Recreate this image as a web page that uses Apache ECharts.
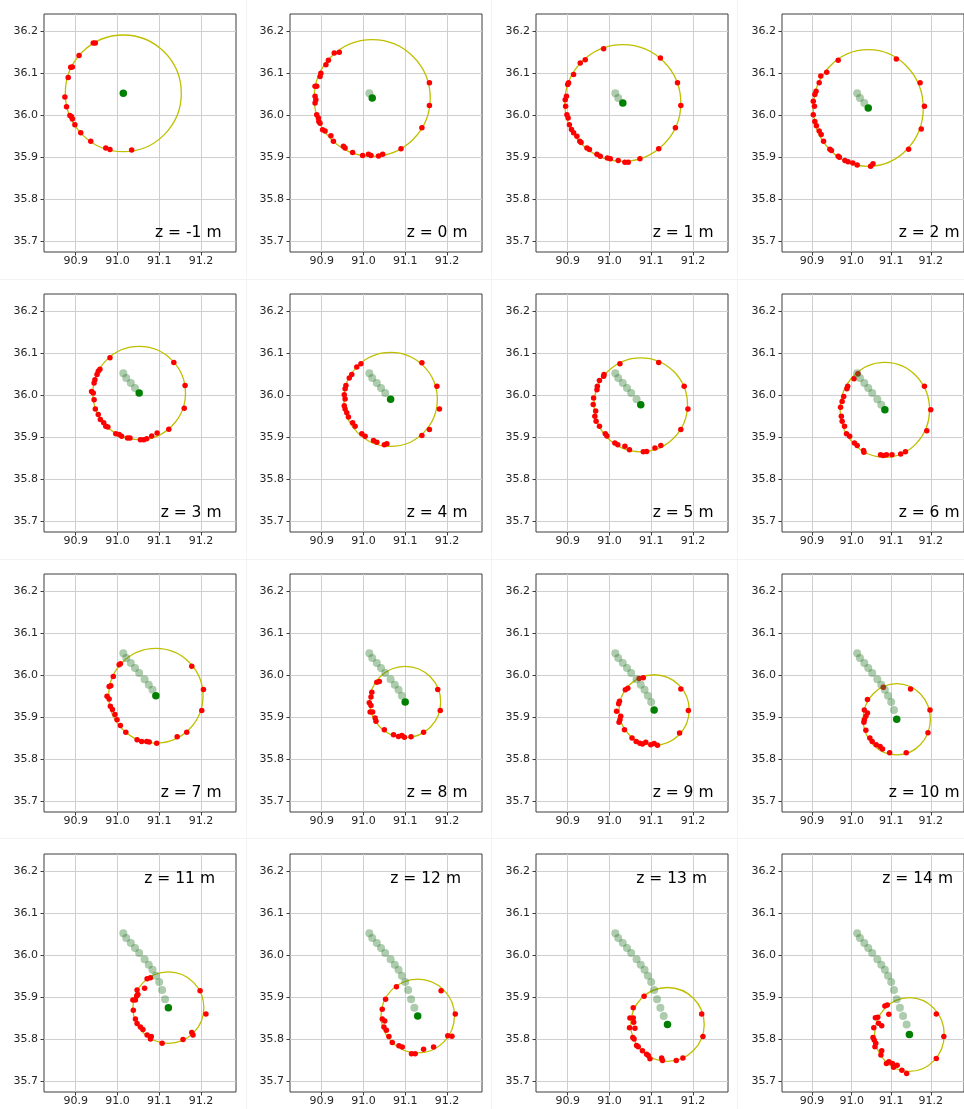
<!DOCTYPE html>
<html><head><meta charset="utf-8">
<script src="https://cdn.jsdelivr.net/npm/echarts@6.0.0/dist/echarts.min.js"></script>
<style>html,body{margin:0;padding:0;background:#fff;overflow:hidden}#chart{width:964px;height:1109px}</style>
</head><body><div id="chart"></div>
<script>
// ---- data ----
const zValues = [-1, 0, 1, 2, 3, 4, 5, 6, 7, 8, 9, 10, 11, 12, 13, 14];
const centerX = [91.014, 91.021, 91.032, 91.042, 91.052, 91.065, 91.075, 91.084, 91.092, 91.100, 91.107, 91.114, 91.122, 91.130, 91.139, 91.146];
const centerY = [36.052, 36.041, 36.029, 36.017, 36.005, 35.990, 35.977, 35.965, 35.951, 35.936, 35.917, 35.895, 35.875, 35.855, 35.835, 35.811];
const radius  = [0.139, 0.139, 0.139, 0.139, 0.111, 0.112, 0.112, 0.113, 0.113, 0.085, 0.084, 0.085, 0.085, 0.088, 0.088, 0.088];

const ptsZm1 = [[90.942,36.172],[90.947,36.172],[90.908,36.142],[90.888,36.114],[90.892,36.115],[90.882,36.090],[90.874,36.043],[90.878,36.020],[90.886,35.999],[90.890,35.996],[90.892,35.991],[90.898,35.977],[90.912,35.958],[90.936,35.938],[90.972,35.922],[90.982,35.918],[91.034,35.917]];
const ptsZ0 = [[90.930,36.148],[90.942,36.150],[90.916,36.131],[90.910,36.120],[90.898,36.100],[90.896,36.092],[90.884,36.069],[90.888,36.069],[90.884,36.045],[90.886,36.037],[90.884,36.029],[90.888,36.001],[90.892,35.993],[90.893,35.985],[90.896,35.981],[90.902,35.965],[90.908,35.962],[90.922,35.951],[90.928,35.938],[90.952,35.926],[90.956,35.922],[90.974,35.911],[90.998,35.904],[91.012,35.907],[91.018,35.904],[91.036,35.903],[91.046,35.907],[91.090,35.920],[91.140,35.970],[91.158,36.023],[91.158,36.077]];
const ptsZ1 = [[90.986,36.158],[90.930,36.124],[90.942,36.132],[90.914,36.097],[90.902,36.077],[90.900,36.073],[90.897,36.045],[90.894,36.037],[90.895,36.021],[90.898,36.001],[90.901,35.993],[90.904,35.977],[90.909,35.966],[90.914,35.958],[90.922,35.950],[90.929,35.938],[90.932,35.935],[90.946,35.922],[90.952,35.918],[90.970,35.907],[90.978,35.902],[90.995,35.898],[91.002,35.896],[91.021,35.892],[91.037,35.888],[91.045,35.888],[91.073,35.896],[91.118,35.920],[91.158,35.970],[91.171,36.023],[91.163,36.077],[91.122,36.136]];
const ptsZ2 = [[90.966,36.131],[90.937,36.102],[90.922,36.093],[90.918,36.077],[90.910,36.057],[90.907,36.049],[90.903,36.033],[90.906,36.021],[90.903,36.001],[90.907,35.985],[90.911,35.975],[90.918,35.962],[90.923,35.954],[90.929,35.938],[90.945,35.919],[90.949,35.916],[90.966,35.902],[90.969,35.900],[90.983,35.892],[90.991,35.889],[91.003,35.886],[91.014,35.881],[91.048,35.878],[91.054,35.884],[91.144,35.919],[91.176,35.967],[91.184,36.021],[91.173,36.077],[91.113,36.134]];
const ptsZ3 = [[90.982,36.089],[90.958,36.062],[90.954,36.057],[90.951,36.049],[90.946,36.037],[90.944,36.029],[90.938,36.009],[90.942,36.005],[90.944,35.989],[90.947,35.967],[90.954,35.954],[90.959,35.942],[90.967,35.934],[90.972,35.926],[90.977,35.924],[90.996,35.908],[91.004,35.906],[91.010,35.902],[91.024,35.898],[91.030,35.898],[91.055,35.894],[91.063,35.894],[91.070,35.896],[91.082,35.903],[91.095,35.910],[91.123,35.919],[91.160,35.969],[91.162,36.023],[91.135,36.078]];
const ptsZ4 = [[90.994,36.075],[90.984,36.067],[90.972,36.049],[90.966,36.041],[90.958,36.023],[90.956,36.015],[90.954,36.001],[90.956,35.991],[90.954,35.975],[90.956,35.967],[90.960,35.958],[90.964,35.948],[90.974,35.934],[90.980,35.926],[90.996,35.908],[91.004,35.902],[91.024,35.892],[91.032,35.888],[91.050,35.882],[91.056,35.884],[91.140,35.904],[91.158,35.918],[91.182,35.967],[91.176,36.021],[91.140,36.077]];
const ptsZ5 = [[91.025,36.075],[91.118,36.078],[91.179,36.021],[91.188,35.967],[91.171,35.918],[91.123,35.880],[91.109,35.874],[91.089,35.866],[91.081,35.865],[91.048,35.870],[91.037,35.878],[91.020,35.882],[91.013,35.886],[90.994,35.903],[90.990,35.908],[90.976,35.926],[90.968,35.938],[90.965,35.950],[90.967,35.962],[90.961,35.978],[90.962,35.993],[90.970,36.013],[90.971,36.021],[90.976,36.035],[90.986,36.045],[90.987,36.049]];
const ptsZ6 = [[91.016,36.051],[91.006,36.039],[90.990,36.021],[90.988,36.015],[90.980,35.997],[90.976,35.985],[90.972,35.971],[90.974,35.950],[90.976,35.938],[90.982,35.926],[90.987,35.908],[90.995,35.902],[91.007,35.886],[91.014,35.880],[91.030,35.868],[91.031,35.864],[91.073,35.858],[91.080,35.856],[91.088,35.858],[91.102,35.858],[91.124,35.860],[91.136,35.865],[91.190,35.915],[91.200,35.965],[91.184,36.021]];
const ptsZ7 = [[91.004,36.025],[91.007,36.027],[90.990,35.997],[90.984,35.975],[90.980,35.973],[90.975,35.950],[90.980,35.943],[90.983,35.926],[90.988,35.918],[90.994,35.906],[90.999,35.894],[91.007,35.880],[91.020,35.864],[91.047,35.846],[91.058,35.842],[91.070,35.842],[91.076,35.841],[91.094,35.838],[91.143,35.853],[91.166,35.864],[91.202,35.916],[91.206,35.966],[91.178,36.021]];
const ptsZ8 = [[91.032,35.983],[91.038,35.985],[91.020,35.959],[91.018,35.948],[91.014,35.934],[91.018,35.928],[91.016,35.912],[91.022,35.912],[91.028,35.898],[91.030,35.890],[91.050,35.870],[91.072,35.858],[91.084,35.854],[91.092,35.856],[91.098,35.852],[91.114,35.853],[91.144,35.864],[91.184,35.916],[91.178,35.966]];
const ptsZ9 = [[91.071,35.992],[91.081,35.994],[91.038,35.965],[91.044,35.969],[91.024,35.938],[91.022,35.932],[91.017,35.914],[91.027,35.902],[91.025,35.894],[91.023,35.888],[91.036,35.870],[91.054,35.850],[91.064,35.842],[91.073,35.838],[91.079,35.836],[91.087,35.840],[91.099,35.834],[91.107,35.837],[91.115,35.833],[91.168,35.862],[91.189,35.916],[91.171,35.967]];
const ptsZ10 = [[91.080,35.971],[91.040,35.942],[91.032,35.917],[91.040,35.910],[91.036,35.902],[91.032,35.894],[91.031,35.888],[91.036,35.869],[91.046,35.850],[91.052,35.842],[91.062,35.834],[91.072,35.830],[91.078,35.824],[91.096,35.815],[91.138,35.815],[91.193,35.863],[91.198,35.917],[91.149,35.967]];
const ptsZ11 = [[91.071,35.944],[91.079,35.946],[91.047,35.917],[91.065,35.921],[91.049,35.906],[91.046,35.903],[91.037,35.893],[91.043,35.893],[91.038,35.869],[91.043,35.848],[91.047,35.837],[91.055,35.829],[91.061,35.823],[91.071,35.810],[91.081,35.806],[91.079,35.800],[91.107,35.790],[91.157,35.799],[91.178,35.816],[91.181,35.810],[91.212,35.860],[91.198,35.915]];
const ptsZ12 = [[91.079,35.925],[91.053,35.895],[91.045,35.871],[91.045,35.848],[91.051,35.843],[91.049,35.829],[91.055,35.821],[91.061,35.806],[91.069,35.792],[91.085,35.784],[91.093,35.781],[91.115,35.765],[91.124,35.765],[91.144,35.776],[91.168,35.781],[91.202,35.808],[91.212,35.807],[91.220,35.860],[91.186,35.915]];
const ptsZ13 = [[91.083,35.902],[91.057,35.875],[91.049,35.850],[91.057,35.850],[91.058,35.840],[91.048,35.827],[91.061,35.826],[91.056,35.804],[91.059,35.800],[91.065,35.785],[91.069,35.782],[91.079,35.772],[91.089,35.764],[91.093,35.761],[91.097,35.753],[91.125,35.755],[91.127,35.749],[91.160,35.749],[91.176,35.755],[91.224,35.806],[91.221,35.860]];
const ptsZ14 = [[91.084,35.879],[91.090,35.881],[91.094,35.859],[91.060,35.851],[91.066,35.852],[91.068,35.838],[91.076,35.832],[91.056,35.827],[91.054,35.804],[91.057,35.798],[91.061,35.790],[91.059,35.782],[91.076,35.772],[91.074,35.762],[91.088,35.742],[91.094,35.746],[91.103,35.742],[91.106,35.733],[91.115,35.738],[91.127,35.726],[91.139,35.718],[91.214,35.754],[91.233,35.806],[91.214,35.860]];
const ringPoints = [ptsZm1, ptsZ0, ptsZ1, ptsZ2, ptsZ3, ptsZ4, ptsZ5, ptsZ6, ptsZ7, ptsZ8, ptsZ9, ptsZ10, ptsZ11, ptsZ12, ptsZ13, ptsZ14];

const xTicks = [90.9, 91.0, 91.1, 91.2];
const yTicks = [35.7, 35.8, 35.9, 36.0, 36.1, 36.2];
const xMin = 90.824, xMax = 91.284, yMin = 35.674, yMax = 36.241;

// ---- layout ----
const colLeft = [44, 290, 536, 782], rowTop = [14, 294, 574, 854], W = 192, H = 238;
const grids = [], xAxes = [], yAxes = [], series = [], graphics = [];
const tickColor = '#3d3d3d', labelColor = '#262626';

zValues.forEach((z, i) => {
  const col = i % 4, row = Math.floor(i / 4);
  const left = colLeft[col], top = rowTop[row];
  grids.push({left, top, width: W, height: H, show: true, borderColor: '#3d3d3d', borderWidth: 1, backgroundColor: '#ffffff', containLabel: false});
  xAxes.push({
    type: 'value', gridIndex: i, position: 'bottom', min: xMin, max: xMax, scale: true,
    axisLine: {show: false},
    axisTick: {show: true, length: 3.5, customValues: xTicks, lineStyle: {color: tickColor, width: 1}},
    axisLabel: {customValues: xTicks, formatter: v => v.toFixed(1), margin: 4, color: labelColor, fontSize: 11, fontFamily: 'DejaVu Sans'},
    splitLine: {show: true, lineStyle: {color: '#cfcfcf', width: 1}}
  });
  yAxes.push({
    type: 'value', gridIndex: i, position: 'left', min: yMin, max: yMax, scale: true,
    axisLine: {show: false},
    axisTick: {show: true, length: 3.5, customValues: yTicks, lineStyle: {color: tickColor, width: 1}},
    axisLabel: {customValues: yTicks, formatter: v => v.toFixed(1), margin: 6, color: labelColor, fontSize: 11, fontFamily: 'DejaVu Sans'},
    splitLine: {show: true, lineStyle: {color: '#cfcfcf', width: 1}}
  });
  // fitted circle
  series.push({
    type: 'custom', xAxisIndex: i, yAxisIndex: i, silent: true, z: 2, clip: true,
    data: [[centerX[i], centerY[i], radius[i]]],
    renderItem: (params, api) => {
      const c = api.coord([api.value(0), api.value(1)]);
      const s = api.size([api.value(2), api.value(2)]);
      const rx = s[0], ry = s[1];
      const d = `M ${c[0] - rx} ${c[1]} A ${rx} ${ry} 0 1 0 ${c[0] + rx} ${c[1]} A ${rx} ${ry} 0 1 0 ${c[0] - rx} ${c[1]} Z`;
      return {type: 'path', shape: {pathData: d}, style: {fill: 'none', stroke: '#bfbf00', lineWidth: 1.3}};
    }
  });
  // measured points
  series.push({
    type: 'scatter', xAxisIndex: i, yAxisIndex: i, silent: true, z: 3,
    symbolSize: 5.5, itemStyle: {color: '#ff0000', opacity: 1}, data: ringPoints[i]
  });
  // previous centres
  const trail = [];
  for (let k = 0; k < i; k++) trail.push([centerX[k], centerY[k]]);
  series.push({
    type: 'scatter', xAxisIndex: i, yAxisIndex: i, silent: true, z: 4,
    symbolSize: 8, itemStyle: {color: 'rgba(50,125,50,0.4)', opacity: 1}, data: trail
  });
  // current centre
  series.push({
    type: 'scatter', xAxisIndex: i, yAxisIndex: i, silent: true, z: 5,
    symbolSize: 7.5, itemStyle: {color: '#008000', opacity: 1}, data: [[centerX[i], centerY[i]]]
  });
  // label
  const isBottomRow = row === 3;
  graphics.push({
    type: 'text', z: 10,
    x: left + (isBottomRow ? 171 : 177.5),
    y: top + (isBottomRow ? 25 : 218.5),
    style: {text: 'z = ' + z + ' m', fill: '#000', font: '15.5px "DejaVu Sans"', textAlign: 'right', textVerticalAlign: 'middle'}
  });
});

// faint panel separators of the original collage
[246.5, 491.5, 737.5].forEach(x => graphics.push({type: 'line', z: -1, shape: {x1: x, y1: 0, x2: x, y2: 1109}, style: {stroke: '#f3f3f3', lineWidth: 1}}));
[279.5, 559.5, 838.5].forEach(y => graphics.push({type: 'line', z: -1, shape: {x1: 0, y1: y, x2: 964, y2: y}, style: {stroke: '#f3f3f3', lineWidth: 1}}));

const chart = echarts.init(document.getElementById('chart'), null, {renderer: 'canvas'});
chart.setOption({
  animation: false,
  backgroundColor: '#ffffff',
  grid: grids, xAxis: xAxes, yAxis: yAxes, series: series,
  graphic: graphics
});
</script></body></html>
